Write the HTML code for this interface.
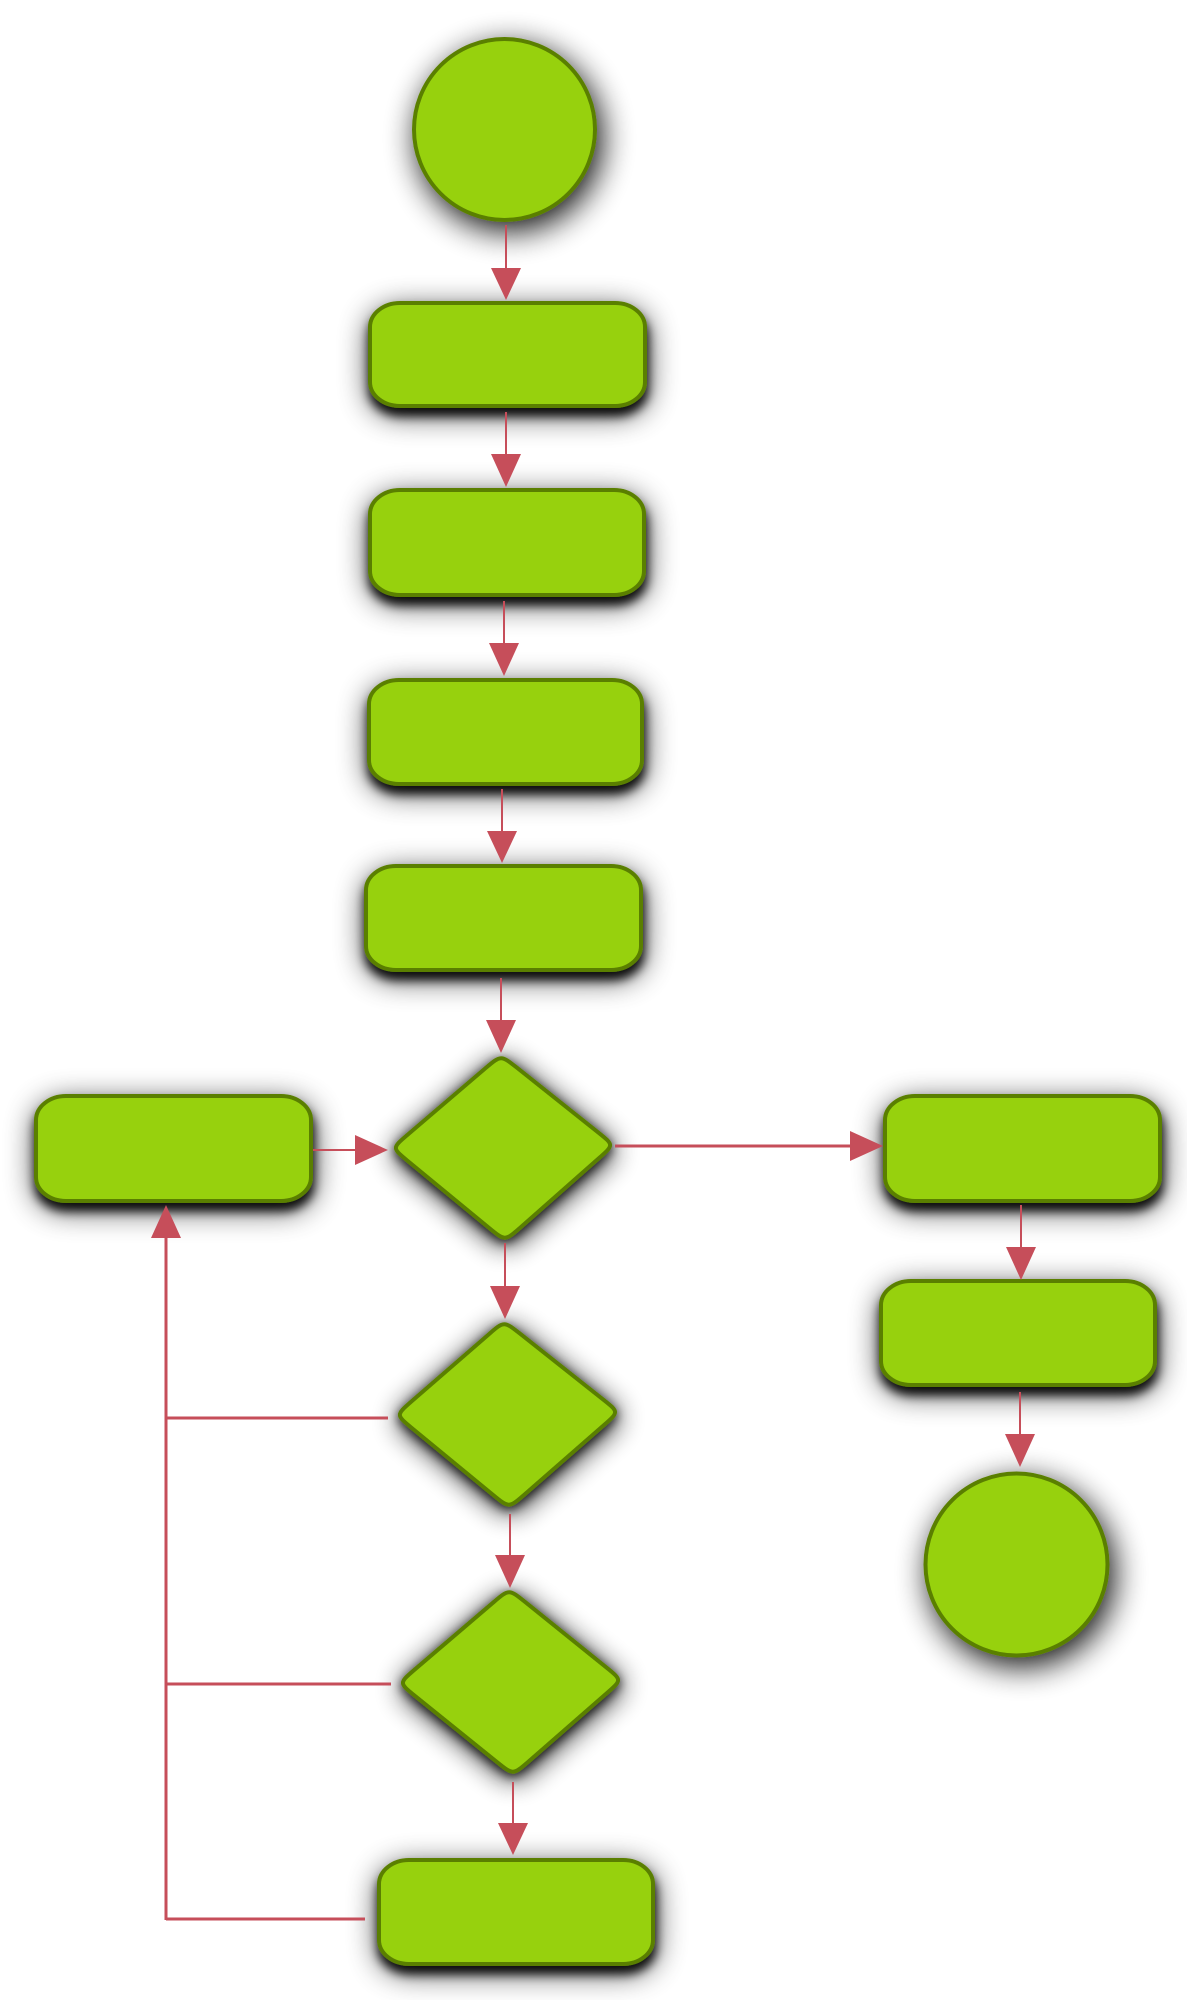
<!DOCTYPE html>
<html>
<head>
<meta charset="utf-8">
<style>
html,body{margin:0;padding:0;background:#ffffff;}
svg{display:block;}
</style>
</head>
<body>
<svg width="1187" height="2000" viewBox="0 0 1187 2000" xmlns="http://www.w3.org/2000/svg">
<defs>
  <filter id="sh" x="-40%" y="-80%" width="180%" height="260%">
    <feGaussianBlur in="SourceAlpha" stdDeviation="15" result="w"/>
    <feOffset in="w" dx="1" dy="7" result="wo"/>
    <feComponentTransfer in="wo" result="wa"><feFuncA type="linear" slope="0.75"/></feComponentTransfer>
    <feGaussianBlur in="SourceAlpha" stdDeviation="5" result="t"/>
    <feOffset in="t" dx="1" dy="8" result="to"/>
    <feComponentTransfer in="to" result="ta"><feFuncA type="linear" slope="0.9"/></feComponentTransfer>
    <feMerge><feMergeNode in="wa"/><feMergeNode in="ta"/><feMergeNode in="SourceGraphic"/></feMerge>
  </filter>
  <filter id="shc" x="-60%" y="-60%" width="220%" height="220%">
    <feGaussianBlur in="SourceAlpha" stdDeviation="16" result="w"/>
    <feOffset in="w" dx="5" dy="9" result="wo"/>
    <feComponentTransfer in="wo" result="wa"><feFuncA type="linear" slope="0.95"/></feComponentTransfer>
    <feMerge><feMergeNode in="wa"/><feMergeNode in="SourceGraphic"/></feMerge>
  </filter>
  <filter id="shd" x="-50%" y="-50%" width="200%" height="200%">
    <feGaussianBlur in="SourceAlpha" stdDeviation="14" result="w"/>
    <feOffset in="w" dx="1" dy="5" result="wo"/>
    <feComponentTransfer in="wo" result="wa"><feFuncA type="linear" slope="0.95"/></feComponentTransfer>
    <feGaussianBlur in="SourceAlpha" stdDeviation="5" result="t"/>
    <feOffset in="t" dx="0" dy="3" result="to"/>
    <feComponentTransfer in="to" result="ta"><feFuncA type="linear" slope="0.7"/></feComponentTransfer>
    <feMerge><feMergeNode in="wa"/><feMergeNode in="ta"/><feMergeNode in="SourceGraphic"/></feMerge>
  </filter>
</defs>

<g fill="#97d10f" stroke="#5a7f00" stroke-width="4">
  <!-- circles -->
  <circle cx="504.5" cy="129.5" r="90.5" filter="url(#shc)"/>
  <circle cx="1016.5" cy="1564.5" r="91" filter="url(#shc)"/>
  <!-- rects -->
  <rect x="370" y="303" width="275" height="103" rx="30" ry="24" filter="url(#sh)"/>
  <rect x="370" y="490" width="274" height="105" rx="30" ry="24" filter="url(#sh)"/>
  <rect x="369" y="680" width="273" height="104" rx="30" ry="24" filter="url(#sh)"/>
  <rect x="366" y="866" width="275" height="104" rx="30" ry="24" filter="url(#sh)"/>
  <rect x="36" y="1096" width="275" height="105" rx="30" ry="24" filter="url(#sh)"/>
  <rect x="885" y="1096" width="275" height="105" rx="30" ry="24" filter="url(#sh)"/>
  <rect x="881" y="1281" width="274" height="104" rx="30" ry="24" filter="url(#sh)"/>
  <rect x="379" y="1860" width="274" height="104" rx="30" ry="24" filter="url(#sh)"/>
  <!-- diamonds -->
  <path filter="url(#shd)" d="M516.8,1067.6 L598.2,1132.4 C614,1145 614,1145 598.7,1158.4 L520.3,1227.6 C505,1241 505,1241 489.2,1228 L407.8,1161 C392,1148 392,1148 407.3,1135 L485.7,1068 C501,1055 501,1055 516.8,1067.6 Z"/>
  <path filter="url(#shd)" d="M520.1,1333.7 L602.9,1399.3 C619,1412 619,1412 603.6,1425.4 L524.4,1494.6 C509,1508 509,1508 493.2,1495 L411.8,1428 C396,1415 396,1415 411.1,1401.8 L488.9,1334.2 C504,1321 504,1321 520.1,1333.7 Z"/>
  <path filter="url(#shd)" d="M524.8,1601.7 L606.2,1667.3 C622,1680 622,1680 606.7,1693.3 L528.3,1761.7 C513,1775 513,1775 497,1762.1 L415,1695.9 C399,1683 399,1683 414.4,1669.8 L493.6,1602.2 C509,1589 509,1589 524.8,1601.7 Z"/>
</g>

<!-- connectors -->
<g stroke="#c64e5a" fill="none">
  <line x1="506" y1="225" x2="506" y2="270" stroke-width="2"/>
  <line x1="506" y1="412" x2="506" y2="456" stroke-width="2"/>
  <line x1="504" y1="601" x2="504" y2="645" stroke-width="2"/>
  <line x1="502" y1="789" x2="502" y2="833" stroke-width="2"/>
  <line x1="501" y1="978" x2="501" y2="1022" stroke-width="2"/>
  <line x1="505" y1="1243" x2="505" y2="1288" stroke-width="2"/>
  <line x1="510" y1="1514" x2="510" y2="1557" stroke-width="2"/>
  <line x1="513" y1="1782" x2="513" y2="1825" stroke-width="2"/>
  <line x1="313" y1="1150" x2="357" y2="1150" stroke-width="2"/>
  <line x1="615" y1="1146" x2="852" y2="1146" stroke-width="3"/>
  <line x1="1021" y1="1205" x2="1021" y2="1249" stroke-width="2"/>
  <line x1="1020" y1="1392" x2="1020" y2="1436" stroke-width="2"/>
  <line x1="166" y1="1236" x2="166" y2="1920" stroke-width="3"/>
  <line x1="166" y1="1418" x2="388" y2="1418" stroke-width="3"/>
  <line x1="166" y1="1684" x2="391" y2="1684" stroke-width="3"/>
  <line x1="166" y1="1919" x2="365" y2="1919" stroke-width="3"/>
</g>
<g fill="#c64e5a">
  <polygon points="491,268 521,268 506,300"/>
  <polygon points="491,454 521,454 506,487"/>
  <polygon points="489,643 519,643 504,676"/>
  <polygon points="487,831 517,831 502,863"/>
  <polygon points="486,1020 516,1020 501,1053"/>
  <polygon points="490,1286 520,1286 505,1319"/>
  <polygon points="495,1555 525,1555 510,1588"/>
  <polygon points="498,1823 528,1823 513,1855"/>
  <polygon points="355,1135 355,1165 388,1150"/>
  <polygon points="850,1131 850,1161 883,1146"/>
  <polygon points="1006,1247 1036,1247 1021,1280"/>
  <polygon points="1005,1434 1035,1434 1020,1467"/>
  <polygon points="151,1238 181,1238 166,1205"/>
</g>
</svg>
</body>
</html>
